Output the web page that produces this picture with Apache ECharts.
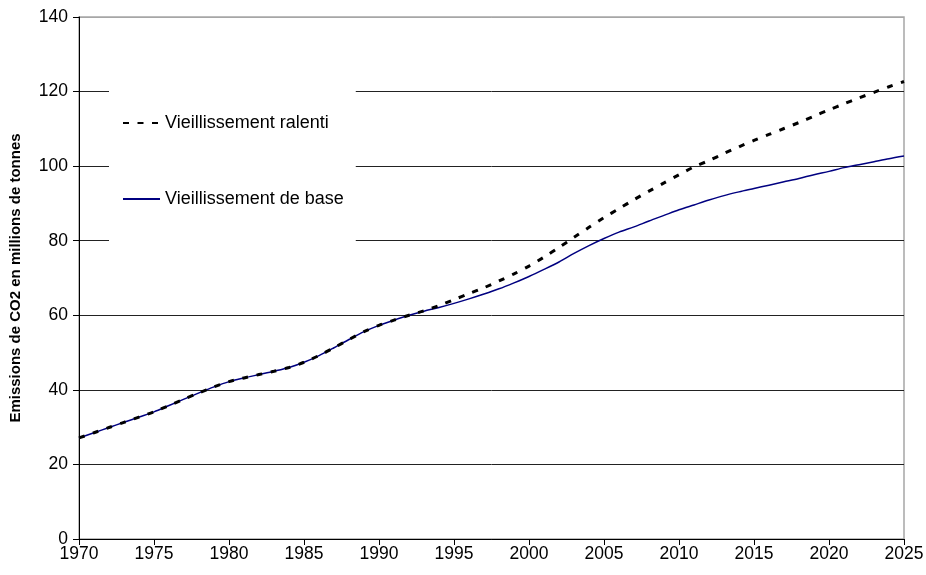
<!DOCTYPE html>
<html>
<head>
<meta charset="utf-8">
<script src="https://cdn.jsdelivr.net/npm/echarts@6/dist/echarts.min.js"></script>
<style>
html,body{margin:0;padding:0;background:#fff;}
#chart{width:926px;height:575px;}
</style>
</head>
<body>
<div id="chart"></div>
<script>
var years = [1970,1971,1972,1973,1974,1975,1976,1977,1978,1979,1980,1981,1982,1983,1984,1985,1986,1987,1988,1989,1990,1991,1992,1993,1994,1995,1996,1997,1998,1999,2000,2001,2002,2003,2004,2005,2006,2007,2008,2009,2010,2011,2012,2013,2014,2015,2016,2017,2018,2019,2020,2021,2022,2023,2024,2025];

var base = [27.1,28.5,29.9,31.3,32.7,34.1,35.8,37.5,39.2,40.8,42.2,43.2,44.1,45.0,46.0,47.4,49.2,51.3,53.5,55.6,57.3,58.7,60.0,61.1,62.1,63.2,64.4,65.7,67.1,68.7,70.4,72.3,74.3,76.6,78.7,80.6,82.3,83.7,85.3,86.8,88.3,89.6,90.9,92.1,93.1,94.0,94.9,95.8,96.7,97.7,98.6,99.6,100.4,101.2,102.0,102.7];

var ralenti = [27.1,28.5,29.9,31.3,32.7,34.1,35.8,37.5,39.2,40.8,42.2,43.2,44.1,45.0,46.0,47.4,49.2,51.3,53.5,55.6,57.3,58.7,60.0,61.2,62.6,64.2,65.8,67.4,69.2,71.1,73.2,75.6,78.2,80.9,83.6,86.2,88.6,91.0,93.3,95.5,97.7,99.8,101.5,103.4,105.2,106.9,108.5,110.1,111.7,113.4,115.1,116.7,118.3,119.8,121.3,122.7];

var seriesNames = ['Vieillissement ralenti', 'Vieillissement de base'];
var yAxisTitle = 'Emissions de CO2 en millions de tonnes';

function pairs(xs, ys){ return xs.map(function(x,i){ return [x, ys[i]]; }); }

var font = 'Liberation Sans, Arial, sans-serif';
var chart = echarts.init(document.getElementById('chart'), null, {renderer:'canvas'});
chart.setOption({
  animation: false,
  backgroundColor: '#ffffff',
  grid: {
    left: 79, right: 22, top: 17, bottom: 36,
    containLabel: false, outerBoundsMode: 'none',
    show: true, borderColor: '#a6a6a6', borderWidth: 1.5, backgroundColor: 'transparent'
  },
  legend: {
    data: seriesNames,
    orient: 'vertical',
    left: 109, top: 79,
    padding: [35, 12, 35, 13],
    backgroundColor: '#ffffff',
    itemWidth: 37, itemHeight: 18, itemGap: 58,
    itemStyle: { color: 'rgba(0,0,0,0)', borderWidth: 0, opacity: 0 },
    textStyle: { fontFamily: font, fontSize: 18, color: '#000' }
  },
  xAxis: {
    type: 'value', min: 1970, max: 2025, interval: 5,
    axisLine: { show: true, lineStyle: { color: '#000', width: 1 } },
    axisTick: { show: true, inside: false, length: 6, lineStyle: { color: '#000' } },
    axisLabel: { fontFamily: font, fontSize: 17.5, color: '#000', margin: 6, formatter: function(v){ return String(v); } },
    splitLine: { show: false }
  },
  yAxis: {
    type: 'value', min: 0, max: 140, interval: 20,
    name: yAxisTitle, nameLocation: 'middle', nameGap: 56,
    nameTextStyle: { fontFamily: font, fontSize: 15, fontWeight: 'bold', color: '#000' },
    axisLine: { show: true, lineStyle: { color: '#000', width: 1 } },
    axisTick: { show: true, inside: false, length: 6, lineStyle: { color: '#000' } },
    axisLabel: { fontFamily: font, fontSize: 17.5, color: '#000', margin: 11 },
    splitLine: { show: true, lineStyle: { color: ['#222','#222','#222','#222','#222','#222','#222','#a6a6a6'], width: 1 } }
  },
  series: [
    {
      name: seriesNames[1], type: 'line', data: pairs(years, base),
      symbol: 'none', smooth: 0.3,
      lineStyle: { color: '#000080', width: 1.5 },
      itemStyle: { color: '#000080' }, z: 2
    },
    {
      name: seriesNames[0], type: 'line', data: pairs(years, ralenti),
      symbol: 'none', smooth: 0.3,
      lineStyle: { color: '#000000', width: 3, type: [6, 8.5] },
      itemStyle: { color: '#000000' }, z: 3
    }
  ]
});
</script>
</body>
</html>
